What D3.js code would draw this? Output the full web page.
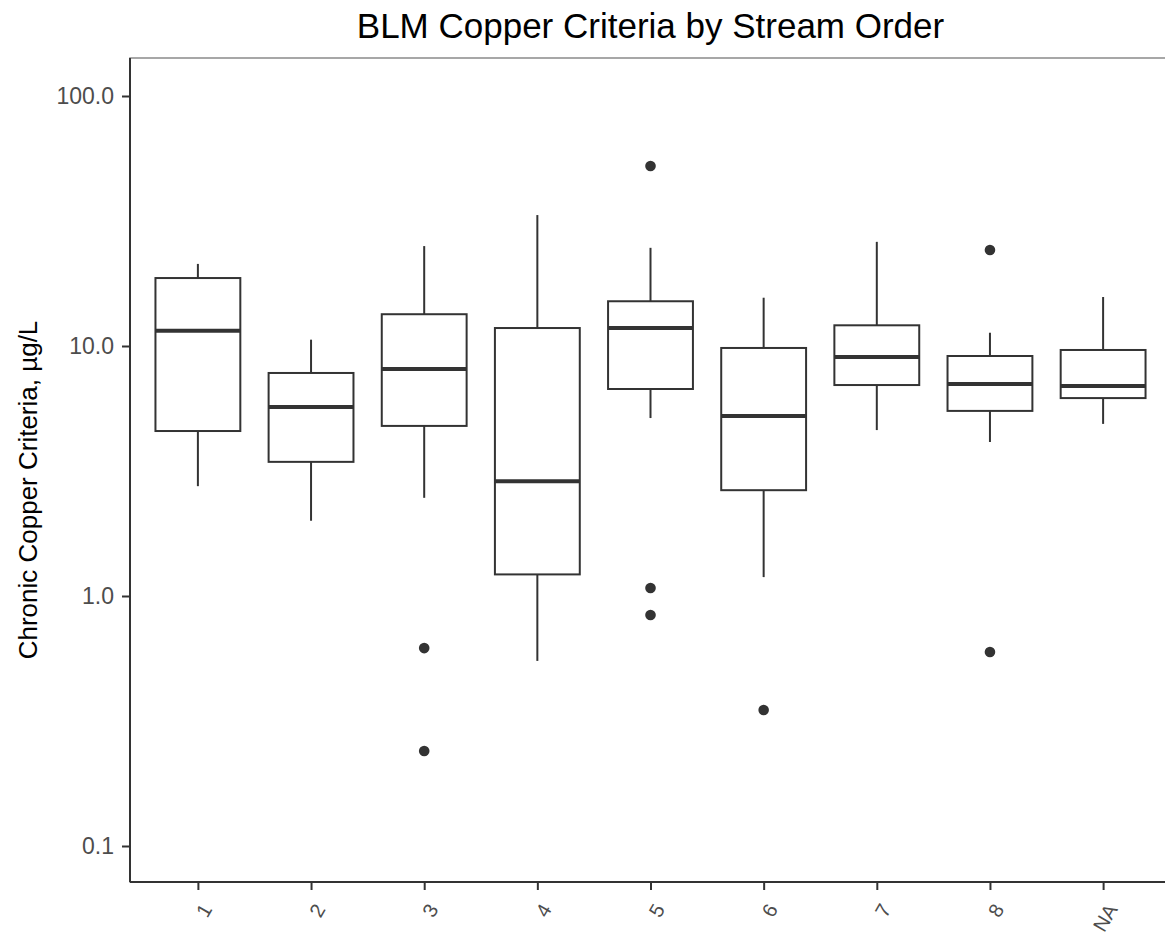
<!DOCTYPE html>
<html>
<head>
<meta charset="utf-8">
<script src="https://cdn.jsdelivr.net/npm/d3@7"></script>
<style>
  body { margin: 0; background: #fff; }
  svg text { font-family: "Liberation Sans", Arial, sans-serif; }
</style>
</head>
<body>
<svg id="chart" width="1165" height="936"></svg>
<script>
// stream order boxplot stats, µg/L
const orders    = ["1", "2", "3", "4", "5", "6", "7", "8", "NA"];
const lowWhisk  = [2.75, 2.0, 2.47, 0.55, 5.15, 1.19, 4.61, 4.13, 4.88];
const q1        = [4.57, 3.44, 4.79, 1.22, 6.73, 2.65, 6.98, 5.50, 6.19];
const medians   = [11.5, 5.70, 8.09, 2.88, 11.8, 5.25, 9.04, 7.05, 6.92];
const q3        = [18.7, 7.8, 13.4, 11.8, 15.1, 9.82, 12.1, 9.12, 9.64];
const highWhisk = [21.3, 10.6, 25.1, 33.4, 24.7, 15.6, 26.1, 11.3, 15.7];
const outliers  = [[], [], [0.619, 0.240], [], [52.5, 1.077, 0.84], [0.35], [], [24.2, 0.597], []];
const yTicks    = [0.1, 1, 10, 100];

const boxes = orders.map((o, i) => ({
  order: o, lo: lowWhisk[i], q1: q1[i], med: medians[i], q3: q3[i], hi: highWhisk[i], out: outliers[i]
}));

const svg = d3.select("#chart");
const panel = { left: 130, top: 58, right: 1171, bottom: 882 };

// discrete axis with ggplot-style 0.6 expansion on each side
const step = (panel.right - panel.left) / (orders.length - 1 + 1.2);
const x = d3.scalePoint()
  .domain(orders)
  .range([panel.left + 0.6 * step, panel.right - 0.6 * step]);
const boxW = step * 0.75;

const y = d3.scaleLog()
  .domain([0.1, 100])
  .range([846, 96]);

const ink = "#333333";

// panel border
svg.append("rect")
  .attr("x", panel.left)
  .attr("y", panel.top)
  .attr("width", panel.right - panel.left)
  .attr("height", panel.bottom - panel.top)
  .attr("fill", "none")
  .attr("stroke", "#8a8a8a")
  .attr("stroke-width", 1.5);

// y axis
const yAxis = svg.append("g")
  .attr("transform", `translate(${panel.left},0)`)
  .call(d3.axisLeft(y).tickValues(yTicks).tickFormat(d3.format(".1f")).tickSize(8).tickPadding(8));
yAxis.select(".domain").remove();
yAxis.append("line")
  .attr("x1", 0).attr("x2", 0)
  .attr("y1", panel.top).attr("y2", panel.bottom)
  .attr("stroke", ink).attr("stroke-width", 2);
yAxis.selectAll(".tick line").attr("stroke", ink).attr("stroke-width", 2);
yAxis.selectAll(".tick text")
  .attr("fill", "#4d4d4d")
  .style("font-size", "23px");

// x axis
const xAxis = svg.append("g")
  .attr("transform", `translate(0,${panel.bottom})`)
  .call(d3.axisBottom(x).tickSize(8).tickSizeOuter(0));
xAxis.select(".domain").remove();
xAxis.append("line")
  .attr("x1", panel.left).attr("x2", panel.right)
  .attr("y1", 0).attr("y2", 0)
  .attr("stroke", ink).attr("stroke-width", 2);
xAxis.selectAll(".tick line").attr("stroke", ink).attr("stroke-width", 2);
xAxis.selectAll(".tick text")
  .attr("fill", "#4d4d4d")
  .style("font-size", "20px")
  .attr("y", 0)
  .attr("dy", "0.72em")
  .attr("text-anchor", "end")
  .attr("transform", "translate(2,20) rotate(-60)");

// boxes
const g = svg.append("g");
const box = g.selectAll("g.box")
  .data(boxes)
  .join("g")
  .attr("class", "box")
  .attr("transform", d => `translate(${x(d.order)},0)`);

box.append("line")
  .attr("x1", 0).attr("x2", 0)
  .attr("y1", d => y(d.hi)).attr("y2", d => y(d.q3))
  .attr("stroke", ink).attr("stroke-width", 2);

box.append("line")
  .attr("x1", 0).attr("x2", 0)
  .attr("y1", d => y(d.q1)).attr("y2", d => y(d.lo))
  .attr("stroke", ink).attr("stroke-width", 2);

box.append("rect")
  .attr("x", -boxW / 2)
  .attr("width", boxW)
  .attr("y", d => y(d.q3))
  .attr("height", d => y(d.q1) - y(d.q3))
  .attr("fill", "#fff")
  .attr("stroke", ink)
  .attr("stroke-width", 2);

box.append("line")
  .attr("x1", -boxW / 2).attr("x2", boxW / 2)
  .attr("y1", d => y(d.med)).attr("y2", d => y(d.med))
  .attr("stroke", ink).attr("stroke-width", 4);

box.selectAll("circle")
  .data(d => d.out)
  .join("circle")
  .attr("cx", 0)
  .attr("cy", v => y(v))
  .attr("r", 5.3)
  .attr("fill", ink);

// titles
svg.append("text")
  .attr("x", (panel.left + panel.right) / 2)
  .attr("y", 38)
  .attr("text-anchor", "middle")
  .attr("fill", "#000")
  .style("font-size", "35px")
  .text("BLM Copper Criteria by Stream Order");

svg.append("text")
  .attr("transform", "translate(37,490) rotate(-90)")
  .attr("text-anchor", "middle")
  .attr("fill", "#000")
  .style("font-size", "26px")
  .text("Chronic Copper Criteria, µg/L");
</script>
</body>
</html>
